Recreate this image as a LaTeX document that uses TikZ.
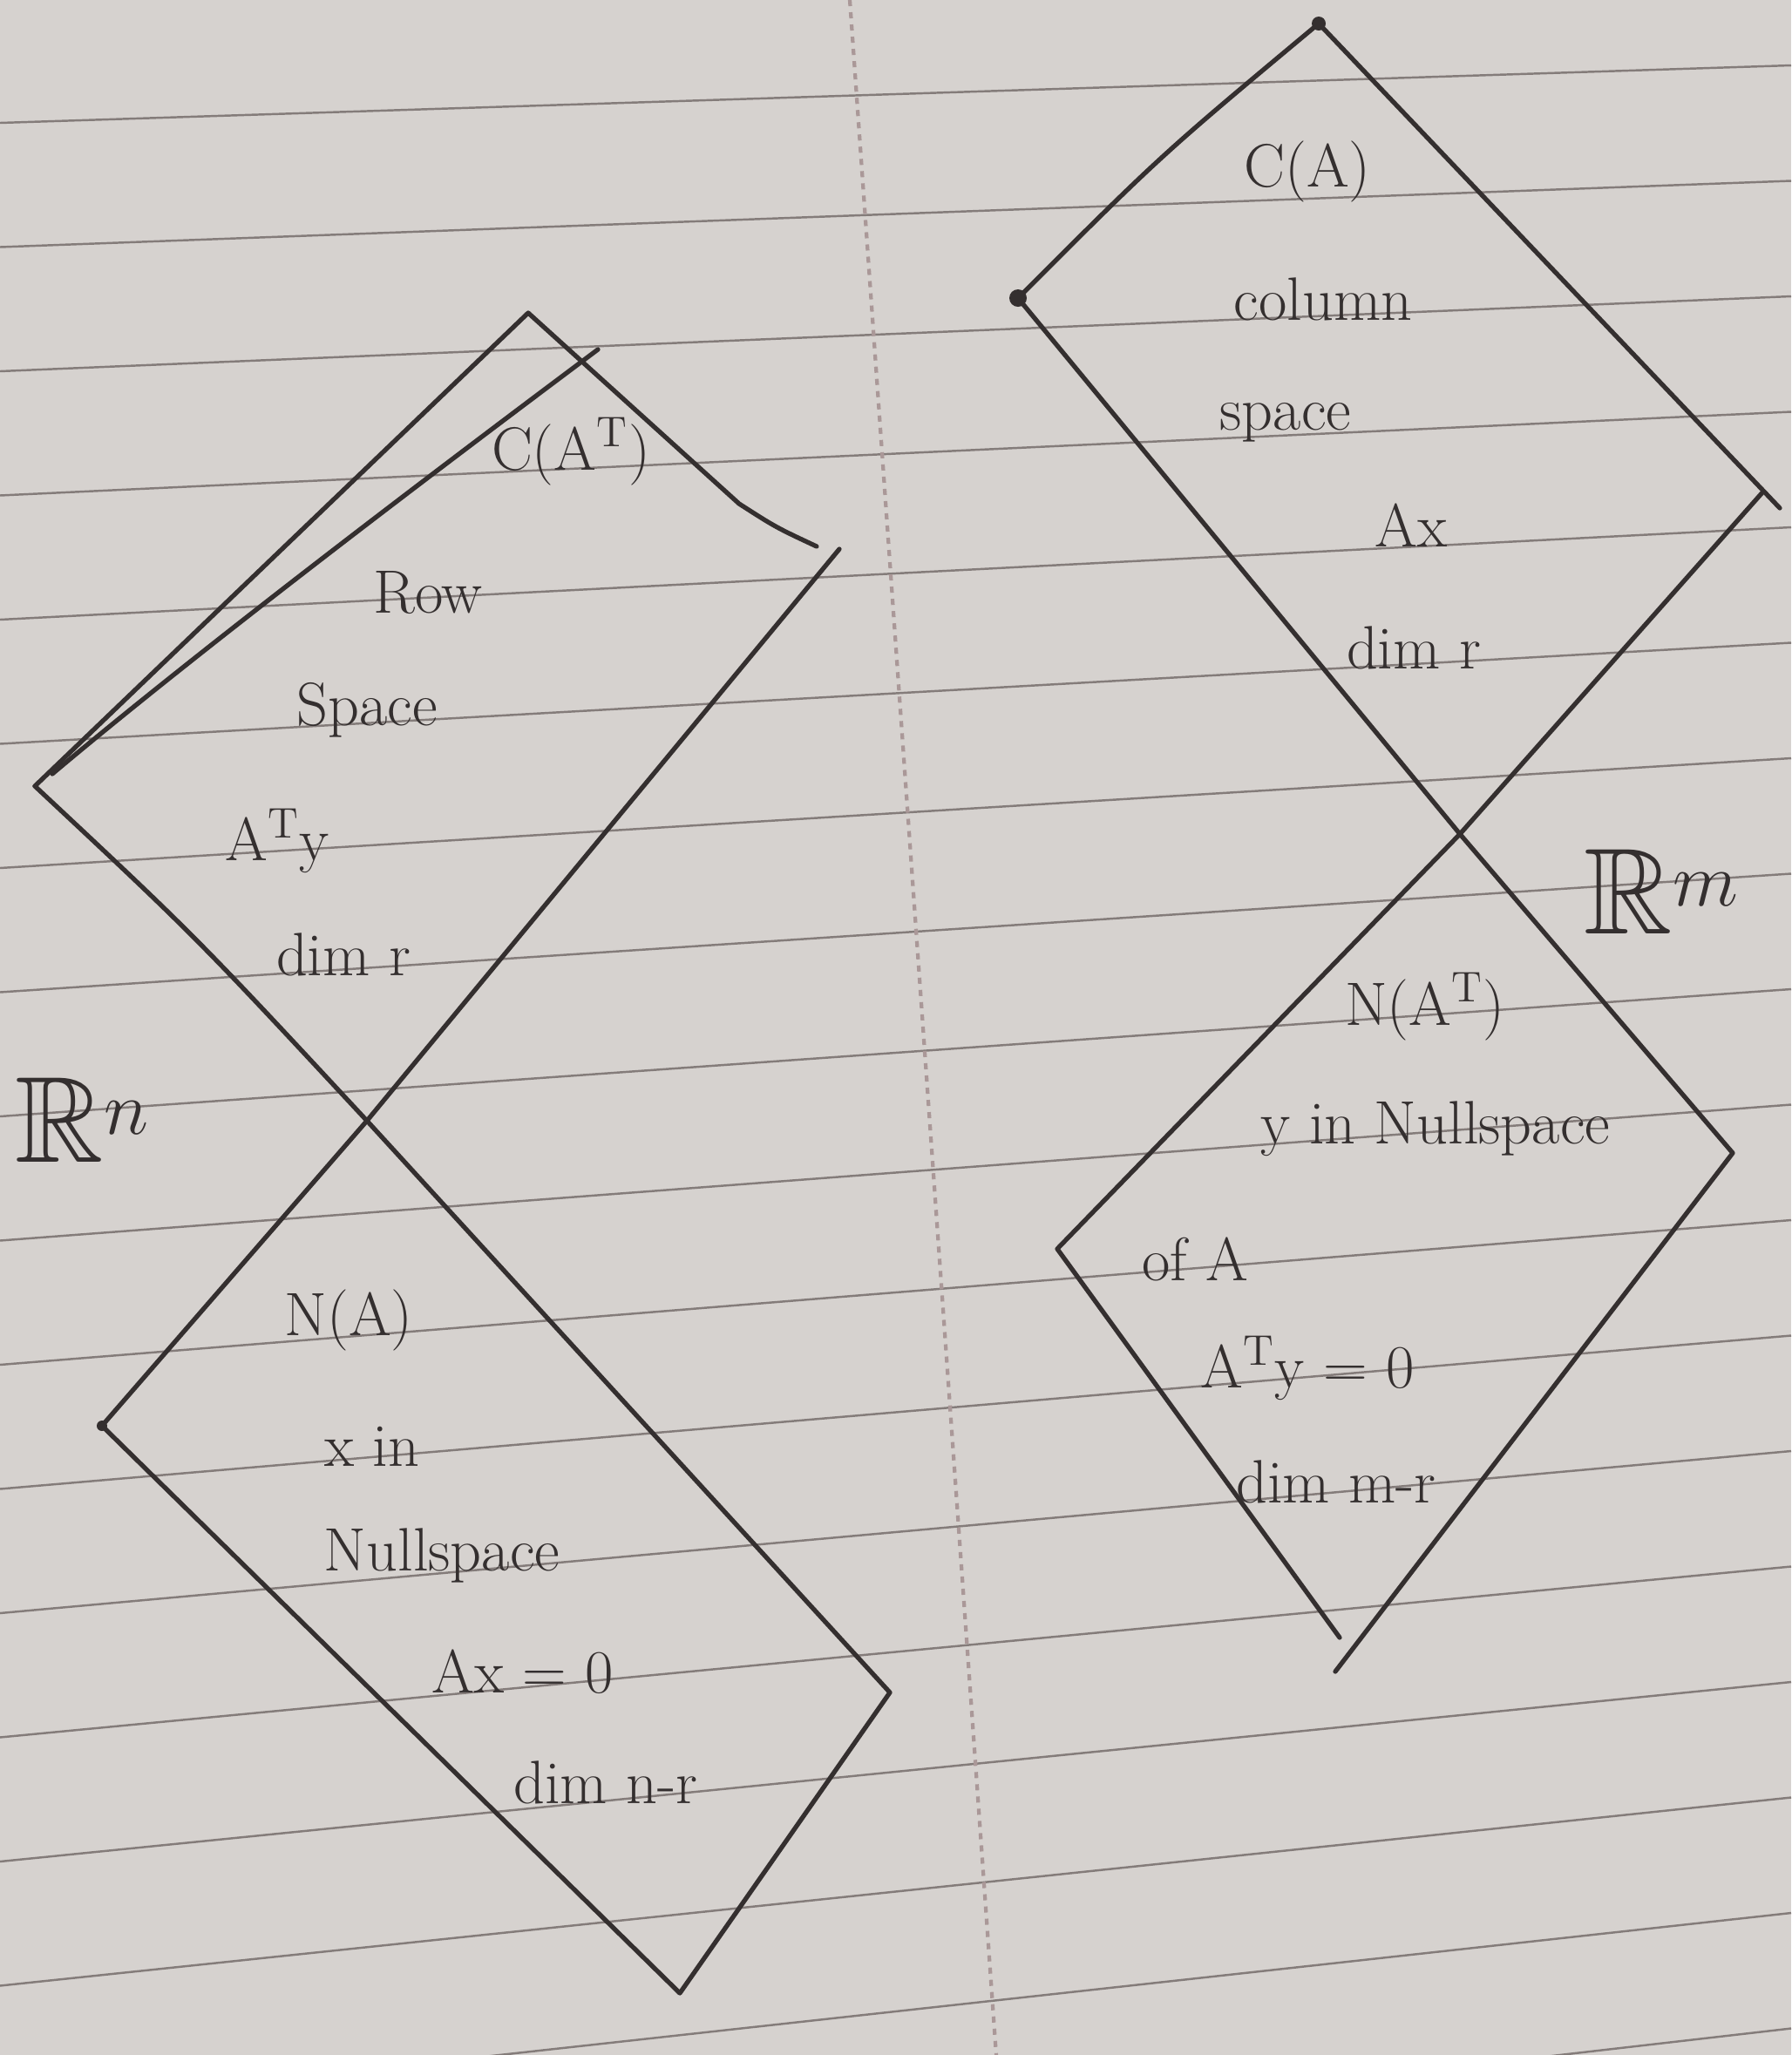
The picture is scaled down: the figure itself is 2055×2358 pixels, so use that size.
\documentclass[tikz,border=0pt]{standalone}
\usepackage{amsmath,amssymb}
\usepackage{tikz}
\usetikzlibrary{positioning}
\definecolor{notepaper}{RGB}{214,210,207}
\definecolor{noterule}{RGB}{132,124,122}
\definecolor{notefold}{RGB}{170,152,152}
\definecolor{inkgray}{RGB}{52,47,47}

\begin{document}
\begin{tikzpicture}[
  x=0.1mm, y=-0.1mm,
  ink/.style={draw=inkgray, line width=1.5pt, line cap=round, line join=round},
  paperline/.style={draw=noterule, line width=0.7pt},
  word/.style={font=\fontsize{20}{24}\selectfont, text=inkgray, inner sep=0pt},
  bigR/.style={font=\fontsize{40}{44}\selectfont, text=inkgray, inner sep=0pt}
]

\fill[notepaper] (0,0) rectangle (2055,2358);
\useasboundingbox (0,0) rectangle (2055,2358);

\foreach \k in {0,...,17}
  \draw[paperline] (0,141+142.5*\k) -- (2055,75+132.5*\k);
\draw[notefold, line width=1.2pt, dash pattern=on 2pt off 2pt] (975,0) -- (1143,2358);

\coordinate (rowL) at (40,902);
\coordinate (rowT) at (606,359);
\coordinate (rowR) at (963,630);
\coordinate (rowE) at (937,627);
\coordinate (crossL) at (421,1286);
\coordinate (nulL) at (117,1636);
\coordinate (nulB) at (780,2287);
\coordinate (nulR) at (1021,1942);

\coordinate (colT) at (1513,27);
\coordinate (colL) at (1168,342);
\coordinate (colR) at (2023,564);
\coordinate (colE) at (2042,583);
\coordinate (crossR) at (1675,957);
\coordinate (lnuL) at (1213,1433);
\coordinate (lnuR) at (1988,1323);
\coordinate (lnuB) at (1537,1879);
\coordinate (lnuE) at (1532,1918);

\draw[ink] (rowL) -- (rowT) -- (848,578) .. controls (890,605) .. (rowE);
\draw[ink] (60,888) .. controls (200,770) and (420,600) .. (686,401);
\draw[ink] (rowL) .. controls (225,1075) .. (crossL) -- (nulR) -- (nulB) -- (nulL) -- (crossL) -- (rowR);

\draw[ink] (colE) -- (colT) .. controls (1332,178) .. (colL) -- (crossR) -- (lnuR) -- (lnuE);
\draw[ink] (colR) -- (crossR) -- (lnuL) -- (lnuB);

\fill[inkgray] (colT) circle (0.8mm);
\fill[inkgray] (colL) circle (1mm);
\fill[inkgray] (nulL) circle (0.6mm);

\node[word] (rowname) at (655,518) {C(A\textsuperscript{T})};
\node[word] (rowword) at (491,680) {Row};
\node[word] (rowspace) at (421,815) {Space};
\node[word] (rowvec) at (318,965) {A\textsuperscript{T}y};
\node[word] (rowdim) at (394,1095) {dim r};

\node[bigR] (rn) at (95,1285) {$\mathbb{R}^n$};

\node[word] (nulname) at (400,1515) {N(A)};
\node[word] (nulx) at (427,1660) {x in};
\node[word] (nulword) at (507,1785) {Nullspace};
\node[word] (nuleq) at (600,1918) {Ax = 0};
\node[word] (nuldim) at (695,2045) {dim n-r};

\node[word] (colname) at (1500,197) {C(A)};
\node[word] (colword) at (1518,343) {column};
\node[word] (colspace) at (1475,485) {space};
\node[word] (colvec) at (1619,603) {Ax};
\node[word] (coldim) at (1622,743) {dim r};

\node[bigR] (rm) at (1907,1023) {$\mathbb{R}^m$};

\node[word] (lnuname) at (1635,1155) {N(A\textsuperscript{T})};
\node[word] (lnuy) at (1647,1295) {y in Nullspace};
\node[word] (lnuof) at (1371,1445) {of A};
\node[word] (lnueq) at (1500,1570) {A\textsuperscript{T}y = 0};
\node[word] (lnudim) at (1533,1700) {dim m-r};

\end{tikzpicture}
\end{document}
